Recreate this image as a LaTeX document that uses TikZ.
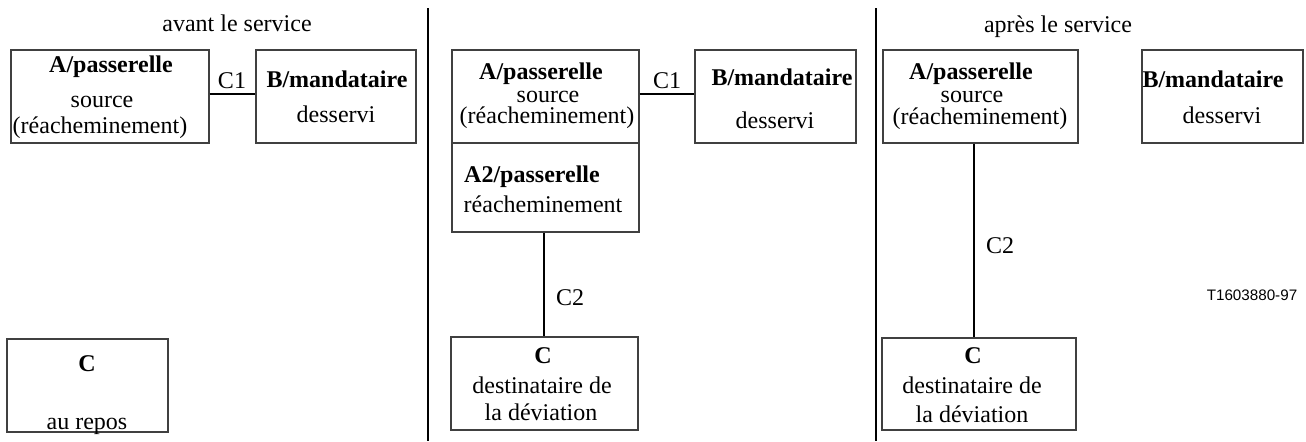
\documentclass[tikz,border=0pt]{standalone}
\usepackage{fontspec}
\setmainfont{Liberation Serif}
\newfontfamily\labelsans{Liberation Sans}
\usetikzlibrary{fit,calc}
\tikzset{
  box/.style={draw=black!75, line width=0.6pt, inner sep=0pt},
  conn/.style={draw=black, line width=1pt},
  divider/.style={draw=black, line width=1pt},
  txt/.style={font=\fontsize{12}{14}\selectfont, inner sep=0pt, text height=7.8pt, text depth=1.9pt},
  txtb/.style={txt, font=\fontsize{12}{14}\selectfont\bfseries},
  tag/.style={font=\labelsans\fontsize{7.6}{9}\selectfont, inner sep=0pt}
}
\begin{document}
\begin{tikzpicture}[x=0.5pt, y=-0.5pt]
\useasboundingbox (0,0) rectangle (1306,441);

% dividers
\coordinate (d1t) at (428,8);
\coordinate (d1b) at (428,441);
\coordinate (d2t) at (876,8);
\coordinate (d2b) at (876,441);
\draw[divider] (d1t) -- (d1b);
\draw[divider] (d2t) -- (d2b);

% ---------- panel 1 ----------
\node[txt] (title1) at (237,26) {avant le service};
\node[box, fit={(11,50) (209,143)}] (A1) {};
\node[txtb] (A1t1) at (111,67) {A/passerelle};
\node[txt] (A1t2) at (102,102) {source};
\node[txt] (A1t3) at (100,128) {(réacheminement)};
\node[box, fit={(256,50) (416,143)}] (B1) {};
\node[txtb] (B1t1) at (337,82) {B/mandataire};
\node[txt] (B1t2) at (336,117) {desservi};
\draw[conn] ([yshift=1.25pt]A1.east) -- ([yshift=1.25pt]B1.west);
\node[txt] (C1a) at (232,83) {C1};
\node[box, fit={(7,339) (168,432)}] (Cb1) {};
\node[txtb] (Cb1t1) at (87,366) {C};
\node[txt] (Cb1t2) at (87,424) {au repos};

% ---------- panel 2 ----------
\node[box, fit={(452,50) (639,143)}] (A2top) {};
\node[box, fit={(452,143) (639,232)}] (A2bot) {};
\node[txtb] (A2t1) at (541,73.5) {A/passerelle};
\node[txt] (A2t2) at (548,96.5) {source};
\node[txt] (A2t3) at (547,118) {(réacheminement)};
\node[txtb] (A2t4) at (532,177) {A2/passerelle};
\node[txt] (A2t5) at (543,207) {réacheminement};
\node[box, fit={(695,50) (856,143)}] (B2) {};
\node[txtb] (B2t1) at (782,80) {B/mandataire};
\node[txt] (B2t2) at (775,123) {desservi};
\draw[conn] ([yshift=1.25pt]A2top.east) -- ([yshift=1.25pt]B2.west);
\node[txt] (C1b) at (667,83) {C1};
\node[box, fit={(451,337) (638,430)}] (Cb2) {};
\node[txtb] (Cb2t1) at (543,358) {C};
\node[txt] (Cb2t2) at (542,388) {destinataire de};
\node[txt] (Cb2t3) at (541,415) {la déviation};
\draw[conn] ([xshift=-1pt]A2bot.south) -- ([xshift=-1pt]A2bot.south |- Cb2.north);
\node[txt] (C2b) at (570,300) {C2};

% ---------- panel 3 ----------
\node[txt] (title3) at (1058,27) {après le service};
\node[box, fit={(883,50) (1078,143)}] (A3) {};
\node[txtb] (A3t1) at (971,73.5) {A/passerelle};
\node[txt] (A3t2) at (972,96.5) {source};
\node[txt] (A3t3) at (980,118.5) {(réacheminement)};
\node[box, fit={(1142,50) (1303,143)}] (B3) {};
\node[txtb] (B3t1) at (1213,82) {B/mandataire};
\node[txt] (B3t2) at (1222,118) {desservi};
\node[box, fit={(882,338) (1076,430)}] (Cb3) {};
\node[txtb] (Cb3t1) at (973,358) {C};
\node[txt] (Cb3t2) at (972,388) {destinataire de};
\node[txt] (Cb3t3) at (972,417) {la déviation};
\draw[conn] ([xshift=-3.25pt]A3.south) -- ([xshift=-3.25pt]A3.south |- Cb3.north);
\node[txt] (C2c) at (1000,248) {C2};
\node[tag] (ref) at (1252,295) {T1603880-97};
\end{tikzpicture}
\end{document}
